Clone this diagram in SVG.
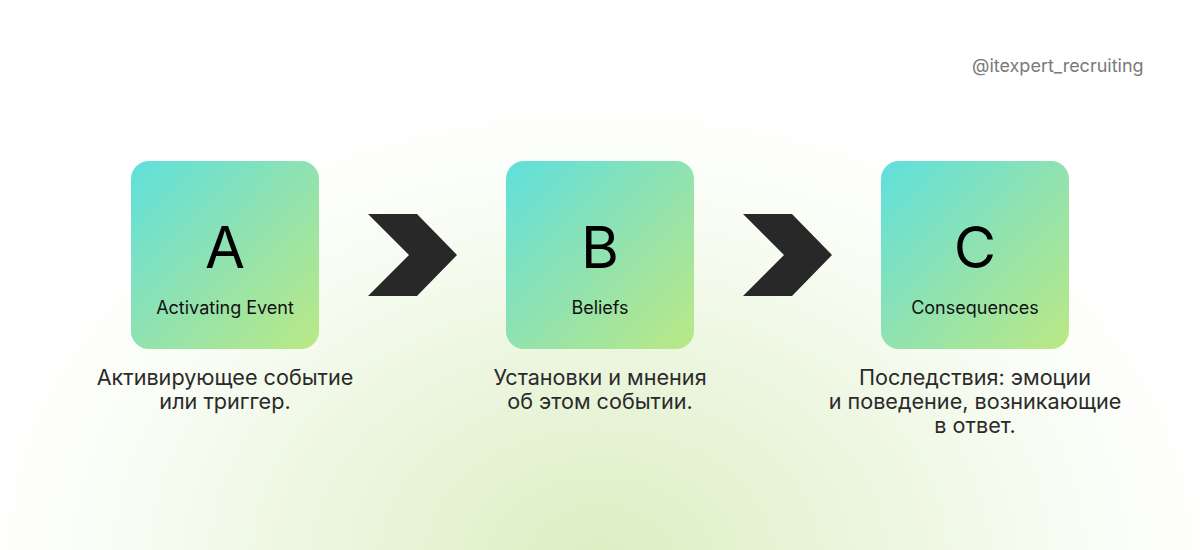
<svg xmlns="http://www.w3.org/2000/svg" width="1200" height="550" viewBox="0 0 1200 550">
<defs>
<radialGradient id="bg" cx="600" cy="560" r="620" gradientUnits="userSpaceOnUse" gradientTransform="translate(600 560) scale(1 0.75) translate(-600 -560)">
<stop offset="0" stop-color="#dcefc2"/>
<stop offset="0.45" stop-color="#ecf6df"/>
<stop offset="0.8" stop-color="#fafdf6"/>
<stop offset="1" stop-color="#ffffff"/>
</radialGradient>
<linearGradient id="box" x1="0" y1="0" x2="1" y2="1">
<stop offset="0" stop-color="#5fe0dd"/>
<stop offset="0.5" stop-color="#90e2b0"/>
<stop offset="1" stop-color="#bbe985"/>
</linearGradient>
<style>
.card{fill:url(#box)}
.big{font-family:Inter,"Noto Sans",sans-serif;font-size:58px;fill:#000;text-anchor:middle}
.lab{font-family:Inter,"Noto Sans",sans-serif;font-size:18px;fill:#111;text-anchor:middle}
.desc{font-family:Inter,"Noto Sans",sans-serif;font-size:21.6px;fill:#2a2a2a;text-anchor:middle}
.chev{fill:#282828}
.handle{font-family:Inter,"Noto Sans",sans-serif;font-size:18px;fill:#7a7a7a}
</style>
</defs>
<rect width="1200" height="550" fill="url(#bg)"/>
<text class="handle" x="972" y="72">@itexpert_recruiting</text>
<g id="nodeA">
<rect class="card" x="131" y="161" width="188" height="188" rx="18"/>
<text class="big" x="225" y="268">A</text>
<text class="lab" x="225" y="314">Activating Event</text>
<text class="desc" x="225" y="385">Активирующее событие</text>
<text class="desc" x="225" y="409">или триггер.</text>
</g>
<g id="nodeB">
<rect class="card" x="506" y="161" width="188" height="188" rx="18"/>
<text class="big" x="600" y="268">B</text>
<text class="lab" x="600" y="314">Beliefs</text>
<text class="desc" x="600" y="385">Установки и мнения</text>
<text class="desc" x="600" y="409">об этом событии.</text>
</g>
<g id="nodeC">
<rect class="card" x="881" y="161" width="188" height="188" rx="18"/>
<text class="big" x="975" y="268">C</text>
<text class="lab" x="975" y="314">Consequences</text>
<text class="desc" x="975" y="385">Последствия: эмоции</text>
<text class="desc" x="975" y="409">и поведение, возникающие</text>
<text class="desc" x="975" y="433">в ответ.</text>
</g>
<g id="connectors">
<polygon class="chev" points="368,214 417,214 457,255 417,296 368,296 409,255"/>
<polygon class="chev" points="743,214 792,214 832,255 792,296 743,296 784,255"/>
</g>
</svg>
